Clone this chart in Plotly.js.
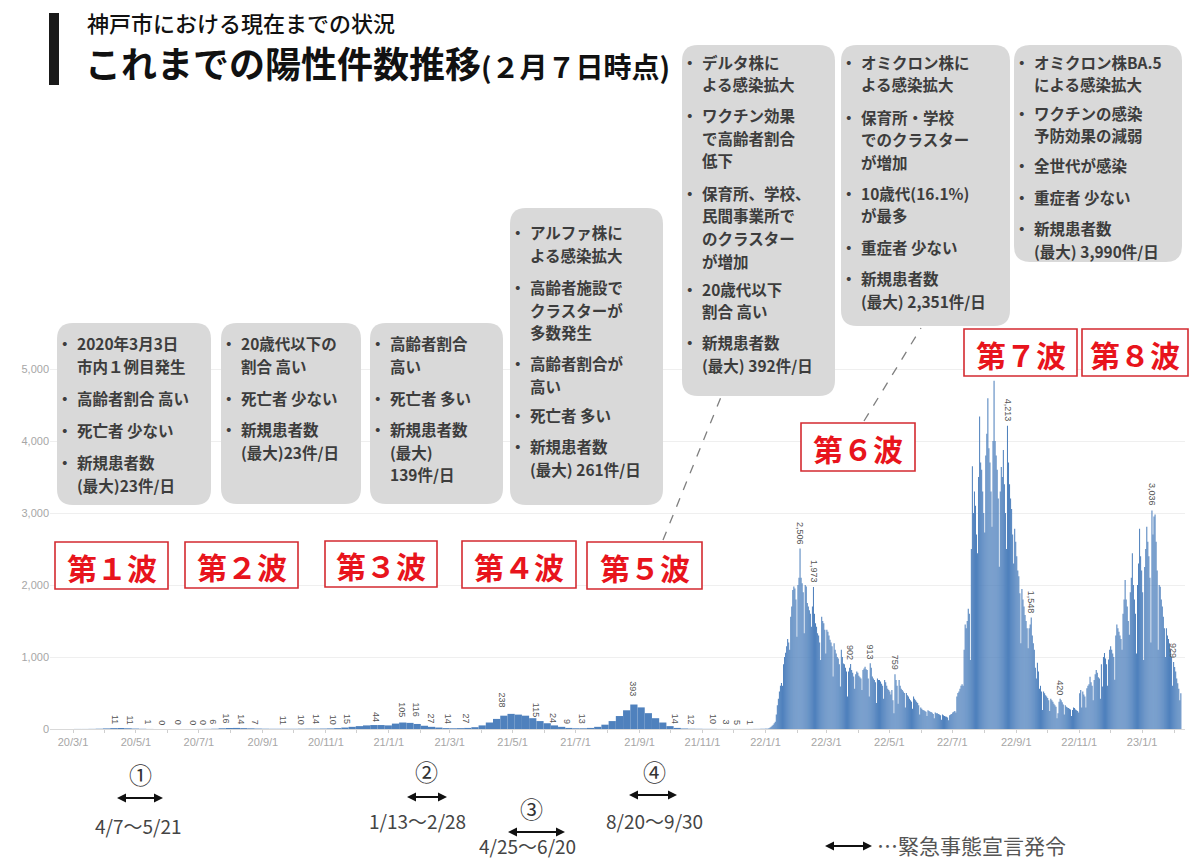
<!DOCTYPE html>
<html><head><meta charset="utf-8">
<script src="https://cdn.plot.ly/plotly-3.0.1.min.js"></script>
<style>html,body{margin:0;padding:0;background:#fff;}#chart{width:1189px;height:861px;}</style>
</head><body><div id="chart"></div>
<script>
// ---------------- data ----------------
// weekly average daily cases (weeks starting Monday), 2020-03-02 .. 2021-12-26
const weeklyStart = '2020-03-02';
const weeklyCases = [1,1,2,4,8,12,14,10,6,3, 1,0,0,0,0,0,0,1,2,4, 10,14,15,12,9,6,4,3,3,3,
  3,4,5,5,6,8,12,20,30,40, 50,55,55,50,75,90,85,70,45,30, 20,12,10,12,15,25,50,90,140,185,
  210,200,185,150,110,80,50,30,15,10, 10,15,30,60,110,180,260,340,300,220, 150,90,40,15,7,4,3,2,2,1,
  1,1,1,1,2];
// daily cases from 2021-12-27 (Mon), one row per week
const dailyStart = '2021-12-27';
const dailyCasesByWeek = [
  [2,3,4,3,4,6,5],[6,10,20,30,45,60,80],[100,200,330,420,520,600,640],[600,900,1000,1060,1150,1250,1200],
  [1100,1560,1700,1930,1980,1950,1800],[1280,2000,2100,2506,2100,2025,1900],[1330,2000,1980,1750,1700,1650,1600],
  [1420,1700,1973,1600,1470,1420,1330],[1300,1200,960,1560,1500,1470,1380],[1050,1380,1350,1300,1240,1200,1150],
  [730,1190,1100,1050,1000,980,900],[590,1100,1000,910,900,850,800],[450,800,850,902,820,780,730],
  [560,760,800,780,740,720,700],[540,820,840,865,830,820,700],[450,913,850,730,700,680,650],
  [360,700,680,680,660,630,600],[420,680,650,600,560,540,520],[480,540,400,220,759,680,600],
  [350,680,600,560,540,520,500],[300,500,470,450,420,400,380],[280,450,420,400,380,360,330],
  [200,300,280,265,260,250,240],[180,260,250,240,235,225,210],[150,230,220,218,210,200,190],
  [130,200,190,180,175,170,160],[120,190,200,210,230,240,250],[230,450,500,520,560,600,620],
  [600,1100,1450,1400,1500,1670,1600],[960,2500,3650,3000,3300,3100,2700],[2440,3500,4340,3700,3600,3300,3000],
  [2730,3800,4100,4593,3900,3700,3300],[2810,4000,4838,4000,3800,3600,3200],[2255,3300,3640,3500,3875,3400,3000],
  [2500,4213,3700,3400,3200,3056,2700],[2300,2780,2600,2400,2200,2120,1884],[1190,1945,1800,1700,1584,1500,1400],
  [1120,1400,1450,1548,1300,1190,1100],[850,700,920,800,560,600,520],[264,520,495,470,450,430,400],
  [250,420,400,380,350,330,310],[150,220,380,420,400,370,340],[200,330,310,300,290,280,270],
  [180,264,300,290,270,260,250],[230,495,540,300,520,480,450],[300,565,600,620,727,650,600],
  [400,680,760,820,780,720,700],[420,900,590,1000,1055,980,900],[600,965,1100,1150,1100,1050,1000],
  [685,1300,1450,1400,1350,1300,1250],[1100,1600,1800,2070,1800,1700,1500],[1310,1900,2100,2440,2000,1800,1600],
  [1050,2000,2300,2780,2400,2200,1900],[960,2250,2500,2810,2600,2400,2100],[1200,3036,2700,2950,2980,2600,2200],
  [1100,2000,1977,1800,1700,1560,1400],[1000,1400,1300,1250,1190,1100,1000],[600,929,860,800,700,634,560],
  [400,495]
];
// axis tick labels
const tickDates = ['2020-03-01','2020-05-01','2020-07-01','2020-09-01','2020-11-01','2021-01-01','2021-03-01',
  '2021-05-01','2021-07-01','2021-09-01','2021-11-01','2022-01-01','2022-03-01','2022-05-01','2022-07-01',
  '2022-09-01','2022-11-01','2023-01-01'];
const tickLabels = ['20/3/1','20/5/1','20/7/1','20/9/1','20/11/1','21/1/1','21/3/1','21/5/1','21/7/1',
  '21/9/1','21/11/1','22/1/1','22/3/1','22/5/1','22/7/1','22/9/1','22/11/1','23/1/1'];
// bar value labels
const valueLabelDates = ['2020-04-10','2020-04-25','2020-05-12','2020-05-26','2020-06-11','2020-06-25','2020-07-05',
  '2020-07-14','2020-07-27','2020-08-10','2020-08-24','2020-09-20','2020-10-07','2020-10-22','2020-11-07','2020-11-21',
  '2020-12-19','2021-01-13','2021-01-27','2021-02-10','2021-02-27','2021-03-16','2021-04-20','2021-05-23','2021-06-08',
  '2021-06-22','2021-07-07','2021-08-25','2021-10-05','2021-10-20','2021-11-10','2021-11-23','2021-12-04','2021-12-16',
  '2022-02-03','2022-02-16','2022-03-24','2022-04-12','2022-05-06','2022-08-23','2022-09-15','2022-10-13','2023-01-10','2023-01-31'];
const valueLabelValues = [11,11,1,0,0,0,0,6,16,14,7,11,10,14,10,15,44,105,116,27,14,27,238,115,24,9,13,393,14,12,10,3,5,1,
  2506,1973,902,913,759,4213,1548,420,3036,929];

// ---------------- helpers (layout only) ----------------
const DAY = 864e5;
function addDays(s, n){ const p = s.split('-').map(Number); return new Date(Date.UTC(p[0],p[1]-1,p[2]) + n*DAY).toISOString().slice(0,10); }
const msStr = ms => new Date(ms).toISOString().replace('T',' ').slice(0,19);
const fmt = v => v.toLocaleString('en-US');

const L = 50, R = 1185, T = 330, B = 729;
const PW = R - L, PH = B - T;
const PXD = 1.032;                       // pixels per day
const xStartMs = Date.UTC(2020,2,1) - (73 - L)/PXD*DAY;
const xEndMs = xStartMs + PW/PXD*DAY;
const px = x => (x - L)/PW;
const py = y => (B - y)/PH;

const dailyCases = dailyCasesByWeek.flat();
const weeklyX = weeklyCases.map((_, i) => addDays(weeklyStart, 7*i));
const dailyX = dailyCases.map((_, i) => addDays(dailyStart, i));

const barColor = '#4f81bd';
const traces = [
  {type:'bar', x: weeklyX, y: weeklyCases, width: 7*DAY, offset: 0, marker:{color: barColor, line:{width:0}}, hoverinfo:'skip'},
  {type:'bar', x: dailyX, y: dailyCases, width: DAY, offset: 0, marker:{color: barColor, line:{width:0}}, hoverinfo:'skip'}
];

const shapes = [];
const annotations = [];
const JP = 'Noto Sans CJK JP';

function rr(x0,y0,x1,y1,r){
  const P = (x,y) => px(x).toFixed(5)+','+py(y).toFixed(5);
  return 'M'+P(x0+r,y0)+' L'+P(x1-r,y0)+' Q'+P(x1,y0)+' '+P(x1,y0+r)+' L'+P(x1,y1-r)+' Q'+P(x1,y1)+' '+P(x1-r,y1)+
    ' L'+P(x0+r,y1)+' Q'+P(x0,y1)+' '+P(x0,y1-r)+' L'+P(x0,y0+r)+' Q'+P(x0,y0)+' '+P(x0+r,y0)+' Z';
}
function txt(x, y, text, size, color, opts){
  const o = Object.assign({weight: 400, xanchor: 'left'}, opts || {});
  annotations.push({xref:'paper', yref:'paper', x: px(x), y: py(y), text: text, showarrow:false, align:'left',
    xanchor: o.xanchor, yanchor:'middle', borderpad: 0, font:{family: JP, size: size, color: color, weight: o.weight}});
}

// title
shapes.push({type:'rect', xref:'paper', yref:'paper', x0:px(49), x1:px(59), y0:py(13), y1:py(85), fillcolor:'#1a1a1a', line:{width:0}, layer:'above'});
txt(86, 22, '神戸市における現在までの状況', 22, '#111', {weight: 500});
txt(84, 62, 'これまでの陽性件数推移<span style="font-size:28px">(２月７日時点)</span>', 36, '#111', {weight: 700});

// grey description boxes: [first line y, lines of the bullet]
const boxes = [
  {r:[57,323,211,505], items:[[343,['2020年3月3日','市内１例目発生']],[398,['高齢者割合 高い']],[430,['死亡者 少ない']],[462,['新規患者数','(最大)23件/日']]]},
  {r:[221,323,361,504], items:[[343,['20歳代以下の','割合 高い']],[398,['死亡者 少ない']],[429,['新規患者数','(最大)23件/日']]]},
  {r:[370,323,503,504], items:[[343,['高齢者割合','高い']],[398,['死亡者 多い']],[429,['新規患者数','(最大)','139件/日']]]},
  {r:[510,208,663,505], items:[[232,['アルファ株に','よる感染拡大']],[287,['高齢者施設で','クラスターが','多数発生']],
    [363,['高齢者割合が','高い']],[415,['死亡者 多い']],[446,['新規患者数','(最大) 261件/日']]]},
  {r:[682,45,835,396], items:[[62,['デルタ株に','よる感染拡大']],[115,['ワクチン効果','で高齢者割合','低下']],
    [193,['保育所、学校、','民間事業所で','のクラスター','が増加']],[289,['20歳代以下','割合 高い']],[342,['新規患者数','(最大) 392件/日']]]},
  {r:[841,45,1010,326], items:[[62,['オミクロン株に','よる感染拡大']],[117,['保育所・学校','でのクラスター','が増加']],
    [193,['10歳代(16.1%)','が最多']],[247,['重症者 少ない']],[278,['新規患者数','(最大) 2,351件/日']]]},
  {r:[1014,45,1182,262], items:[[62,['オミクロン株BA.5','による感染拡大']],[113,['ワクチンの感染','予防効果の減弱']],
    [165,['全世代が感染']],[197,['重症者 少ない']],[228,['新規患者数','(最大) 3,990件/日']]]}
];
const FS = 15.5, LH = 22.5;
boxes.forEach(b => {
  const [x0,y0,x1,y1] = b.r;
  shapes.push({type:'path', xref:'paper', yref:'paper', path: rr(x0,y0,x1,y1,16), fillcolor:'#d9d9d9', line:{width:0}, layer:'above'});
  b.items.forEach(it => {
    const y = it[0], lines = it[1];
    txt(x0-1, y, '・', FS, '#3d3d3d', {weight: 700});
    lines.forEach((ln, j) => txt(x0+19, y + j*LH, ln, FS, '#3d3d3d', {weight: 700}));
  });
});

// dashed connectors
shapes.push({type:'line', xref:'paper', yref:'paper', x0:px(663), y0:py(540), x1:px(721), y1:py(397), line:{color:'#7f7f7f', width:1.3, dash:'dash'}, layer:'above'});
shapes.push({type:'line', xref:'paper', yref:'paper', x0:px(864), y0:py(421), x1:px(921), y1:py(328), line:{color:'#7f7f7f', width:1.3, dash:'dash'}, layer:'above'});

// wave labels
const waves = [
  ['第１波',[55,542,168,589]],['第２波',[185,542,298,588]],['第３波',[325,541,437,587]],['第４波',[462,541,576,588]],
  ['第５波',[587,542,702,589]],['第６波',[801,423,915,471]],['第７波',[964,329,1077,376]],['第８波',[1082,329,1188,376]]
];
waves.forEach(w => {
  const [x0,y0,x1,y1] = w[1];
  shapes.push({type:'rect', xref:'paper', yref:'paper', x0:px(x0), x1:px(x1), y0:py(y0), y1:py(y1), fillcolor:'#ffffff', line:{color:'#d42a30', width:1.6}, layer:'above'});
  txt((x0+x1)/2, (y0+y1)/2 + 1, w[0], 30, '#e8141c', {xanchor:'center', weight: 700});
});

// bar value labels (rotated)
valueLabelDates.forEach((d, i) => {
  annotations.push({xref:'x', yref:'y', x: d + ' 12:00', y: valueLabelValues[i], text: fmt(valueLabelValues[i]), textangle: 90,
    showarrow:false, xanchor:'center', yanchor:'bottom', yshift: 2, font:{family:'Liberation Sans', size:9, color:'#555'}});
});

// emergency declaration marks
function dblArrow(x0, x1, y){
  shapes.push({type:'line', xref:'paper', yref:'paper', x0:px(x0+6), x1:px(x1-6), y0:py(y), y1:py(y), line:{color:'#111', width:2}, layer:'above'});
  const P = (x,yy) => px(x).toFixed(5)+','+py(yy).toFixed(5);
  shapes.push({type:'path', xref:'paper', yref:'paper', path:'M'+P(x0,y)+' L'+P(x0+9,y-4.5)+' L'+P(x0+9,y+4.5)+' Z', fillcolor:'#111', line:{width:0}, layer:'above'});
  shapes.push({type:'path', xref:'paper', yref:'paper', path:'M'+P(x1,y)+' L'+P(x1-9,y-4.5)+' L'+P(x1-9,y+4.5)+' Z', fillcolor:'#111', line:{width:0}, layer:'above'});
}
const decl = [
  ['①', 140, 774, 117, 163, 798, '4/7～5/21', 138, 825],
  ['②', 426, 771, 407, 447, 797, '1/13～2/28', 417, 820],
  ['③', 531, 808, 508, 565, 832, '4/25～6/20', 527, 845],
  ['④', 654, 771, 629, 677, 795, '8/20～9/30', 654, 820]
];
decl.forEach(e => {
  txt(e[1], e[2], e[0], 23, '#333', {xanchor:'center'});
  dblArrow(e[3], e[4], e[5]);
  txt(e[7], e[8], e[6], 19, '#444', {xanchor:'center'});
});
dblArrow(825, 872, 846);
txt(876, 845, '…緊急事態宣言発令', 21, '#555');

const layout = {
  width: 1189, height: 861,
  margin: {l: L, r: 1189 - R, t: T, b: 861 - B, pad: 0},
  paper_bgcolor: '#ffffff', plot_bgcolor: '#ffffff',
  showlegend: false, barmode: 'overlay',
  font: {family: JP},
  xaxis: {type:'date', range:[msStr(xStartMs), msStr(xEndMs)], tickmode:'array', tickvals: tickDates, ticktext: tickLabels,
    ticks:'outside', ticklen:3, tickcolor:'#cfcfcf', showgrid:false, showline:true, linecolor:'#d9d9d9', linewidth:1,
    tickfont:{family:'Liberation Sans', size:11, color:'#a6a6a6'},
    minor:{dtick:'M1', tick0:'2020-03-01', ticks:'outside', ticklen:3, tickcolor:'#cfcfcf', showgrid:false}},
  yaxis: {range:[0, (B - T)/72*1000], tickmode:'linear', tick0:0, dtick:1000, tickformat:',d', showgrid:true, gridcolor:'#efefef',
    zeroline:false, ticks:'', tickfont:{family:'Liberation Sans', size:11, color:'#a6a6a6'}},
  shapes: shapes, annotations: annotations
};
Plotly.newPlot('chart', traces, layout, {staticPlot: true, displayModeBar: false});
</script></body></html>
